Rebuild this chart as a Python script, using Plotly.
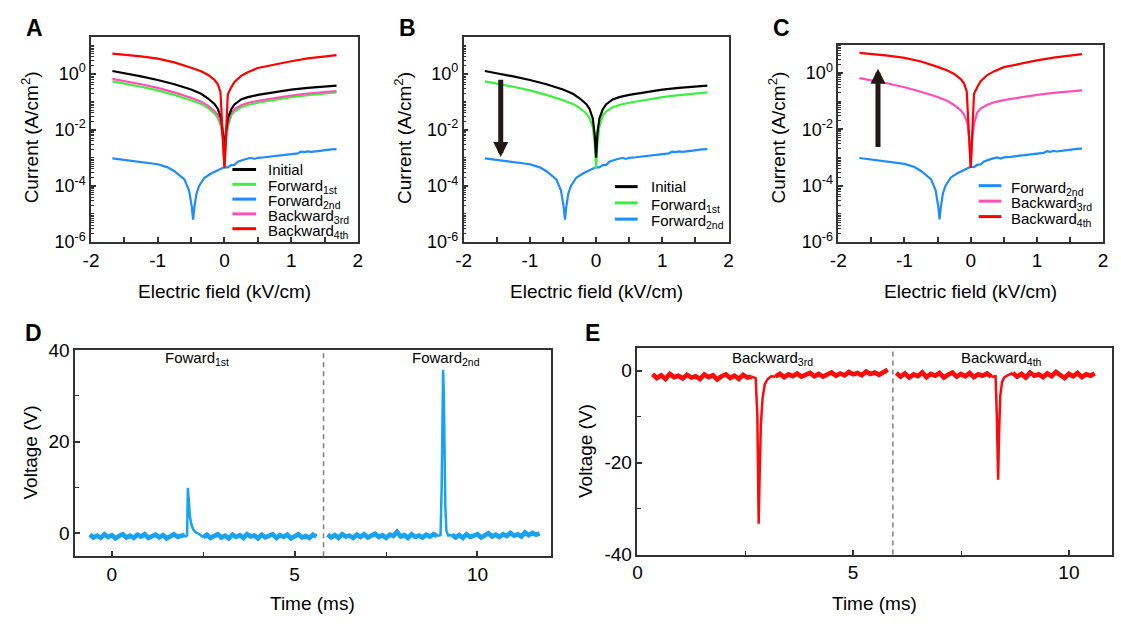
import numpy as np
import plotly.graph_objects as go

W, H = 1121, 632
FONT = "Liberation Sans, Arial, sans-serif"

# ---------------- I-V data (field kV/cm, log10 of current A/cm^2) ----------------
field_initial = [-1.68, -1.5, -1.25, -1.0, -0.75, -0.5, -0.35, -0.25, -0.15, -0.1, -0.05, -0.02, 0.0,
                 0.02, 0.05, 0.1, 0.15, 0.25, 0.35, 0.5, 0.75, 1.0, 1.25, 1.5, 1.68]
logI_initial = [0.09, 0.02, -0.1, -0.23, -0.38, -0.57, -0.72, -0.88, -1.08, -1.25, -1.6, -2.2, -3.0,
                -2.1, -1.6, -1.28, -1.1, -0.92, -0.84, -0.76, -0.66, -0.57, -0.51, -0.47, -0.43]

field_fwd1 = [-1.68, -1.5, -1.25, -1.0, -0.75, -0.5, -0.35, -0.25, -0.15, -0.1, -0.05, -0.02, 0.0,
              0.02, 0.05, 0.1, 0.15, 0.25, 0.35, 0.5, 0.75, 1.0, 1.25, 1.5, 1.68]
logI_fwd1 = [-0.28, -0.35, -0.47, -0.6, -0.76, -0.95, -1.08, -1.22, -1.42, -1.58, -1.9, -2.5, -3.37,
             -2.5, -1.9, -1.5, -1.35, -1.2, -1.12, -1.04, -0.93, -0.84, -0.77, -0.71, -0.67]

field_fwd2 = [-1.68, -1.5, -1.25, -1.0, -0.85, -0.75, -0.6, -0.53, -0.49, -0.47, -0.45, -0.42, -0.38,
              -0.3, -0.2, -0.1, 0.0, 0.05, 0.1, 0.15, 0.2, 0.3, 0.4, 0.45, 0.5, 0.6, 0.75, 0.9, 1.0,
              1.1, 1.15, 1.2, 1.25, 1.3, 1.4, 1.5, 1.6, 1.68]
logI_fwd2 = [-3.02, -3.08, -3.15, -3.23, -3.34, -3.48, -3.77, -4.17, -4.74, -5.2, -4.74, -4.28, -4.0,
             -3.71, -3.56, -3.45, -3.33, -3.34, -3.26, -3.25, -3.14, -3.06, -3.0, -3.04, -3.0, -2.98,
             -2.94, -2.9, -2.86, -2.84, -2.78, -2.8, -2.77, -2.79, -2.76, -2.72, -2.7, -2.69]

field_bwd3 = [-1.68, -1.5, -1.25, -1.0, -0.75, -0.5, -0.35, -0.25, -0.15, -0.1, -0.05, -0.02, 0.0,
              0.02, 0.05, 0.1, 0.15, 0.25, 0.35, 0.5, 0.75, 1.0, 1.25, 1.5, 1.68]
logI_bwd3 = [-0.19, -0.26, -0.38, -0.51, -0.67, -0.86, -1.0, -1.14, -1.33, -1.48, -1.78, -2.4, -3.37,
             -2.4, -1.8, -1.4, -1.27, -1.13, -1.05, -0.97, -0.87, -0.78, -0.71, -0.66, -0.62]

field_bwd4 = [-1.68, -1.5, -1.25, -1.0, -0.75, -0.5, -0.35, -0.25, -0.15, -0.1, -0.06, 0.0,
              0.05, 0.1, 0.15, 0.25, 0.35, 0.5, 0.75, 1.0, 1.25, 1.5, 1.68]
logI_bwd4 = [0.71, 0.67, 0.61, 0.53, 0.4, 0.21, 0.08, -0.04, -0.22, -0.38, -0.66, -3.37,
             -0.74, -0.5, -0.3, -0.08, 0.05, 0.2, 0.33, 0.44, 0.54, 0.6, 0.66]

# ---------------- Voltage transients (time ms, voltage V) ----------------
# baseline pieces: (start time, sample interval, values)
D_base = [
    (-0.6, 0.1, [-0.3, -0.9, -0.5, -1.0, -0.2, -0.8, -0.4, -1.1, -0.6, -0.2, -0.9, -0.5, -1.0, -0.3,
                 -0.7, -0.2, -1.0, -0.6, -0.3, -0.9, -0.4, -1.1, -0.5, -0.2, -0.8, -0.6, -0.3]),
    (2.5, 0.1, [-0.9, -0.3, -1.0, -0.6, -0.2, -0.9, -0.5, -1.1, -0.3, -0.8, -0.4, -1.0, -0.2, -0.7,
                -0.5, -1.1, -0.3, -0.9, -0.6, -0.2, -1.0, -0.4, -0.8, -0.3, -1.1, -0.5, -0.2, -0.9,
                -0.6, -1.0, -0.3, -0.7]),
    (5.9, 0.1, [-0.3, -0.9, -0.4, -1.0, -0.2, -0.7, -0.5, -1.0, -0.3, -0.8, -0.2, -0.9, -0.5, -0.1,
                -0.8, -0.4, -1.0, -0.3, -0.6, 0.3, -0.7, -0.4, -1.0, -0.2, -0.8, -0.5, -0.9, -0.3,
                -0.7, -0.2, -0.6]),
    (9.3, 0.1, [-0.3, -0.9, -0.4, -1.0, -0.2, -0.8, -0.5, -0.2, -0.9, -0.4, 0.0, -0.7, -0.3, -0.8,
                -0.2, -0.6, 0.1, -0.5, -0.2, -0.7, 0.2, -0.4, 0.1, -0.3, 0.0]),
]
D_spike1_t = [2.0, 2.06, 2.08, 2.11, 2.14, 2.18, 2.23, 2.3, 2.4, 2.5]
D_spike1_v = [-0.8, -0.4, 9.9, 6.0, 3.5, 1.8, 0.8, 0.2, -0.2, -0.9]
D_spike2_t = [8.9, 8.99, 9.02, 9.04, 9.06, 9.08, 9.10, 9.12, 9.15, 9.2, 9.3]
D_spike2_v = [-0.6, -0.4, 10.0, 28.0, 35.7, 30.0, 18.0, 6.0, 0.5, -0.5, -0.3]

E_base = [
    (0.35, 0.1, [-0.8, -1.6, -1.0, -1.8, -0.7, -1.4, -1.1, -1.7, -0.9, -1.5, -1.2, -1.8, -0.8, -1.4,
                 -1.0, -1.9, -1.2, -0.8, -1.6, -1.1, -1.8, -0.9, -1.5, -1.3]),
    (3.2, 0.1, [-1.3, -0.7, -1.4, -0.8, -1.2, -0.6, -1.3, -0.9, -0.5, -1.2, -0.7, -1.3, -0.8, -0.4,
                -1.1, -0.6, -1.0, -0.3, -0.8, -0.5, -1.0, -0.2, -0.7, -0.4, -0.9, -0.3, 0.2]),
    (6.0, 0.1, [-0.5, -1.3, -0.6, -1.5, -0.8, -1.2, -0.4, -1.4, -0.7, -1.1, -0.5, -1.5, -0.9, -0.4,
                -1.3, -0.7, -1.2, -0.5, -1.4, -0.8, -1.1, -0.6, -1.3]),
    (8.7, 0.1, [-0.5, -1.3, -0.7, -1.5, -0.4, -1.1, -0.8, -1.4, -0.6, -1.2, -0.3, -1.0, -1.6, -0.7,
                -1.2, -0.5, -1.4, -0.8, -1.1, -0.6]),
]
E_spike3_t = [2.65, 2.74, 2.78, 2.80, 2.81, 2.83, 2.86, 2.9, 2.95, 3.02, 3.1, 3.2]
E_spike3_v = [-1.3, -1.6, -10.0, -28.0, -33.3, -24.0, -12.0, -6.0, -3.0, -1.8, -1.2, -1.3]
E_spike4_t = [8.2, 8.30, 8.33, 8.35, 8.36, 8.38, 8.41, 8.45, 8.5, 8.58, 8.7]
E_spike4_v = [-1.3, -1.2, -10.0, -20.0, -23.7, -14.0, -5.5, -2.5, -1.5, -1.0, -0.5]

D_divider = 5.79
E_divider = 5.92

# tick labels
field_ticks = [-2, -1, 0, 1, 2]
field_ticktext = ["-2", "-1", "0", "1", "2"]
logI_ticks = [1e-6, 1e-4, 1e-2, 1]
logI_ticktext = ["10<sup>-6</sup>", "10<sup>-4</sup>", "10<sup>-2</sup>", "10<sup>0</sup>"]
E_vticks = [-40, -20, 0]
E_vticktext = ["-40", "-20", "0"]

# ---------------- colours ----------------
C_INIT, C_F1, C_F2, C_B3, C_B4 = "#000000", "#3ef03e", "#1e8cff", "#ff50b8", "#ff0000"
C_D, C_E = "#18a2f2", "#ff0a0a"
C_ARROW = "#231815"
AXC = "#333333"

fig = go.Figure()


def iv(x, logy, color, xa, ya):
    fig.add_trace(go.Scatter(x=x, y=np.power(10.0, logy), mode="lines", xaxis=xa, yaxis=ya,
                             line=dict(color=color, width=2.2), showlegend=False, hoverinfo="skip"))


# Panel A
iv(field_fwd2, logI_fwd2, C_F2, "x", "y")
iv(field_fwd1, logI_fwd1, C_F1, "x", "y")
iv(field_bwd3, logI_bwd3, C_B3, "x", "y")
iv(field_initial, logI_initial, C_INIT, "x", "y")
iv(field_bwd4, logI_bwd4, C_B4, "x", "y")
# Panel B
iv(field_fwd2, logI_fwd2, C_F2, "x2", "y2")
iv(field_fwd1, logI_fwd1, C_F1, "x2", "y2")
iv(field_initial, logI_initial, C_INIT, "x2", "y2")
# Panel C
iv(field_fwd2, logI_fwd2, C_F2, "x3", "y3")
iv(field_bwd3, logI_bwd3, C_B3, "x3", "y3")
iv(field_bwd4, logI_bwd4, C_B4, "x3", "y3")


def transient(base, spikes, color, xa, ya):
    for t0, dt, vals in base:
        t = [round(t0 + dt * i, 3) for i in range(len(vals))]
        fig.add_trace(go.Scatter(x=t, y=vals, mode="lines", xaxis=xa, yaxis=ya,
                                 line=dict(color=color, width=4.6), showlegend=False, hoverinfo="skip"))
    for t, v in spikes:
        fig.add_trace(go.Scatter(x=t, y=v, mode="lines", xaxis=xa, yaxis=ya,
                                 line=dict(color=color, width=2.5), showlegend=False, hoverinfo="skip"))


transient(D_base, [(D_spike1_t, D_spike1_v), (D_spike2_t, D_spike2_v)], C_D, "x4", "y4")
transient(E_base, [(E_spike3_t, E_spike3_v), (E_spike4_t, E_spike4_v)], C_E, "x5", "y5")


def dx(a, b):
    return [a / W, b / W]


def dy(top, bottom):
    return [1 - bottom / H, 1 - top / H]


base_ax = dict(showline=True, linecolor=AXC, linewidth=1.5, mirror=True, ticks="inside",
               tickcolor=AXC, tickwidth=1.5, ticklen=5, showgrid=False, zeroline=False,
               tickfont=dict(size=19, family=FONT, color="black"))

minor_log = [k * 10.0 ** n for n in range(-6, 2) for k in range(1, 10)]
log_ax = dict(base_ax, type="log", tickmode="array", tickvals=logI_ticks, ticktext=logI_ticktext,
              tickfont=dict(size=18, family=FONT, color="black"),
              minor=dict(tickmode="array", tickvals=minor_log, ticks="inside", ticklen=3,
                         tickcolor=AXC, tickwidth=1))
field_ax = dict(base_ax, range=[-2, 2], tickmode="array", tickvals=field_ticks, ticktext=field_ticktext,
                minor=dict(tickmode="linear", tick0=0, dtick=0.5, ticks="inside", ticklen=5,
                           tickcolor=AXC, tickwidth=1.5))

layout = dict(width=W, height=H, margin=dict(l=0, r=0, t=0, b=0),
              paper_bgcolor="white", plot_bgcolor="white", font=dict(family=FONT, color="black"))

layout["xaxis"] = dict(field_ax, domain=dx(84, 354), anchor="y")
layout["yaxis"] = dict(log_ax, domain=dy(28, 240), range=[-6, 1.3], anchor="x")
layout["xaxis2"] = dict(field_ax, domain=dx(461, 729), anchor="y2")
layout["yaxis2"] = dict(log_ax, domain=dy(28, 240), range=[-6, 1.3], anchor="x2")
layout["xaxis3"] = dict(field_ax, domain=dx(840, 1108), anchor="y3")
layout["yaxis3"] = dict(log_ax, domain=dy(35.8, 240), range=[-6, 1], anchor="x3")

minor_lin = dict(ticks="inside", ticklen=4, tickcolor=AXC, tickwidth=1.2)
layout["xaxis4"] = dict(base_ax, domain=dx(68, 549), range=[-1, 12], dtick=5, tick0=0, anchor="y4",
                        minor=dict(minor_lin, dtick=2.5))
layout["yaxis4"] = dict(base_ax, domain=dy(351.7, 565), range=[-5, 40], dtick=20, tick0=0, anchor="x4",
                        minor=dict(minor_lin, dtick=10))
layout["xaxis5"] = dict(base_ax, domain=dx(636.8, 1117), range=[0, 11], dtick=5, tick0=0, anchor="y5",
                        minor=dict(minor_lin, dtick=2.5))
layout["yaxis5"] = dict(base_ax, domain=dy(349.3, 563.3), range=[-40, 5], tickmode="array",
                        tickvals=E_vticks, ticktext=E_vticktext, anchor="x5",
                        minor=dict(minor_lin, tickmode="linear", tick0=0, dtick=10))

shapes = []
annotations = []


def ptext(text, x, y, size, bold=False, angle=0, xanchor="center", yanchor="middle"):
    annotations.append(dict(text=("<b>%s</b>" % text) if bold else text, xref="paper", yref="paper",
                            x=x / W, y=1 - y / H, xanchor=xanchor, yanchor=yanchor, showarrow=False,
                            textangle=angle, font=dict(size=size, family=FONT, color="black")))


# panel letters
for letter, x, y in [("A", 27, 19), ("B", 404, 19), ("C", 783, 19), ("D", 26, 334), ("E", 591, 334)]:
    ptext(letter, x, y, 23, bold=True)

# axis titles
for xc in [22, 399, 778]:
    ptext("Current (A/cm<sup>2</sup>)", xc, 132, 19, angle=-90)
for xc in [219, 595, 974]:
    ptext("Electric field (kV/cm)", xc, 291, 19)
ptext("Time (ms)", 308.5, 614, 19)
ptext("Time (ms)", 877, 614, 19)
ptext("Voltage (V)", 23, 458, 19, angle=-90)
ptext("Voltage (V)", 585, 456, 19, angle=-90)


# legends
def legend(entries, x0, x1, xt, ys):
    for (label, color), y in zip(entries, ys):
        shapes.append(dict(type="line", xref="paper", yref="paper", x0=x0 / W, x1=x1 / W,
                           y0=1 - y / H, y1=1 - y / H, line=dict(color=color, width=3)))
        off = 2.5 if "<sub>" in label else 0
        ptext(label, xt, y + off, 15, xanchor="left")


legend([("Initial", C_INIT), ("Forward<sub>1st</sub>", C_F1), ("Forward<sub>2nd</sub>", C_F2),
        ("Backward<sub>3rd</sub>", C_B3), ("Backward<sub>4th</sub>", C_B4)],
       227, 251, 261, [165, 180.3, 195.6, 210.9, 226.2])
legend([("Initial", C_INIT), ("Forward<sub>1st</sub>", C_F1), ("Forward<sub>2nd</sub>", C_F2)],
       614, 637, 649, [182.7, 199.5, 216.3])
legend([("Forward<sub>2nd</sub>", C_F2), ("Backward<sub>3rd</sub>", C_B3), ("Backward<sub>4th</sub>", C_B4)],
       982, 1005, 1013, [181.7, 197.7, 213.7])

# arrows in B and C (log axis: y in log10 units)
annotations.append(dict(xref="x2", yref="y2", axref="x2", ayref="y2", x=-1.44, y=-2.97, ax=-1.44, ay=-0.17,
                        text="", showarrow=True, arrowhead=2, arrowsize=0.6, arrowwidth=5,
                        arrowcolor=C_ARROW))
annotations.append(dict(xref="x3", yref="y3", axref="x3", ayref="y3", x=-1.4, y=0.14, ax=-1.4, ay=-2.68,
                        text="", showarrow=True, arrowhead=2, arrowsize=0.6, arrowwidth=5,
                        arrowcolor=C_ARROW))

# dashed dividers
shapes.append(dict(type="line", xref="x4", yref="y4 domain", x0=D_divider, x1=D_divider, y0=0, y1=1,
                   line=dict(color="#7f7f7f", width=1.5, dash="5px,4px")))
shapes.append(dict(type="line", xref="x5", yref="y5 domain", x0=E_divider, x1=E_divider, y0=0, y1=1,
                   line=dict(color="#7f7f7f", width=1.5, dash="5px,4px")))

# event labels
for text, xa, ya, x, y in [("Foward<sub>1st</sub>", "x4", "y4", 2.33, 38.1),
                           ("Foward<sub>2nd</sub>", "x4", "y4", 9.14, 38.1),
                           ("Backward<sub>3rd</sub>", "x5", "y5", 3.13, 2.65),
                           ("Backward<sub>4th</sub>", "x5", "y5", 8.44, 2.65)]:
    annotations.append(dict(text=text, xref=xa, yref=ya, x=x, y=y, showarrow=False,
                            font=dict(size=15, family=FONT, color="black")))

layout["shapes"] = shapes
layout["annotations"] = annotations
fig.update_layout(**layout)
fig.write_html("out.html")
